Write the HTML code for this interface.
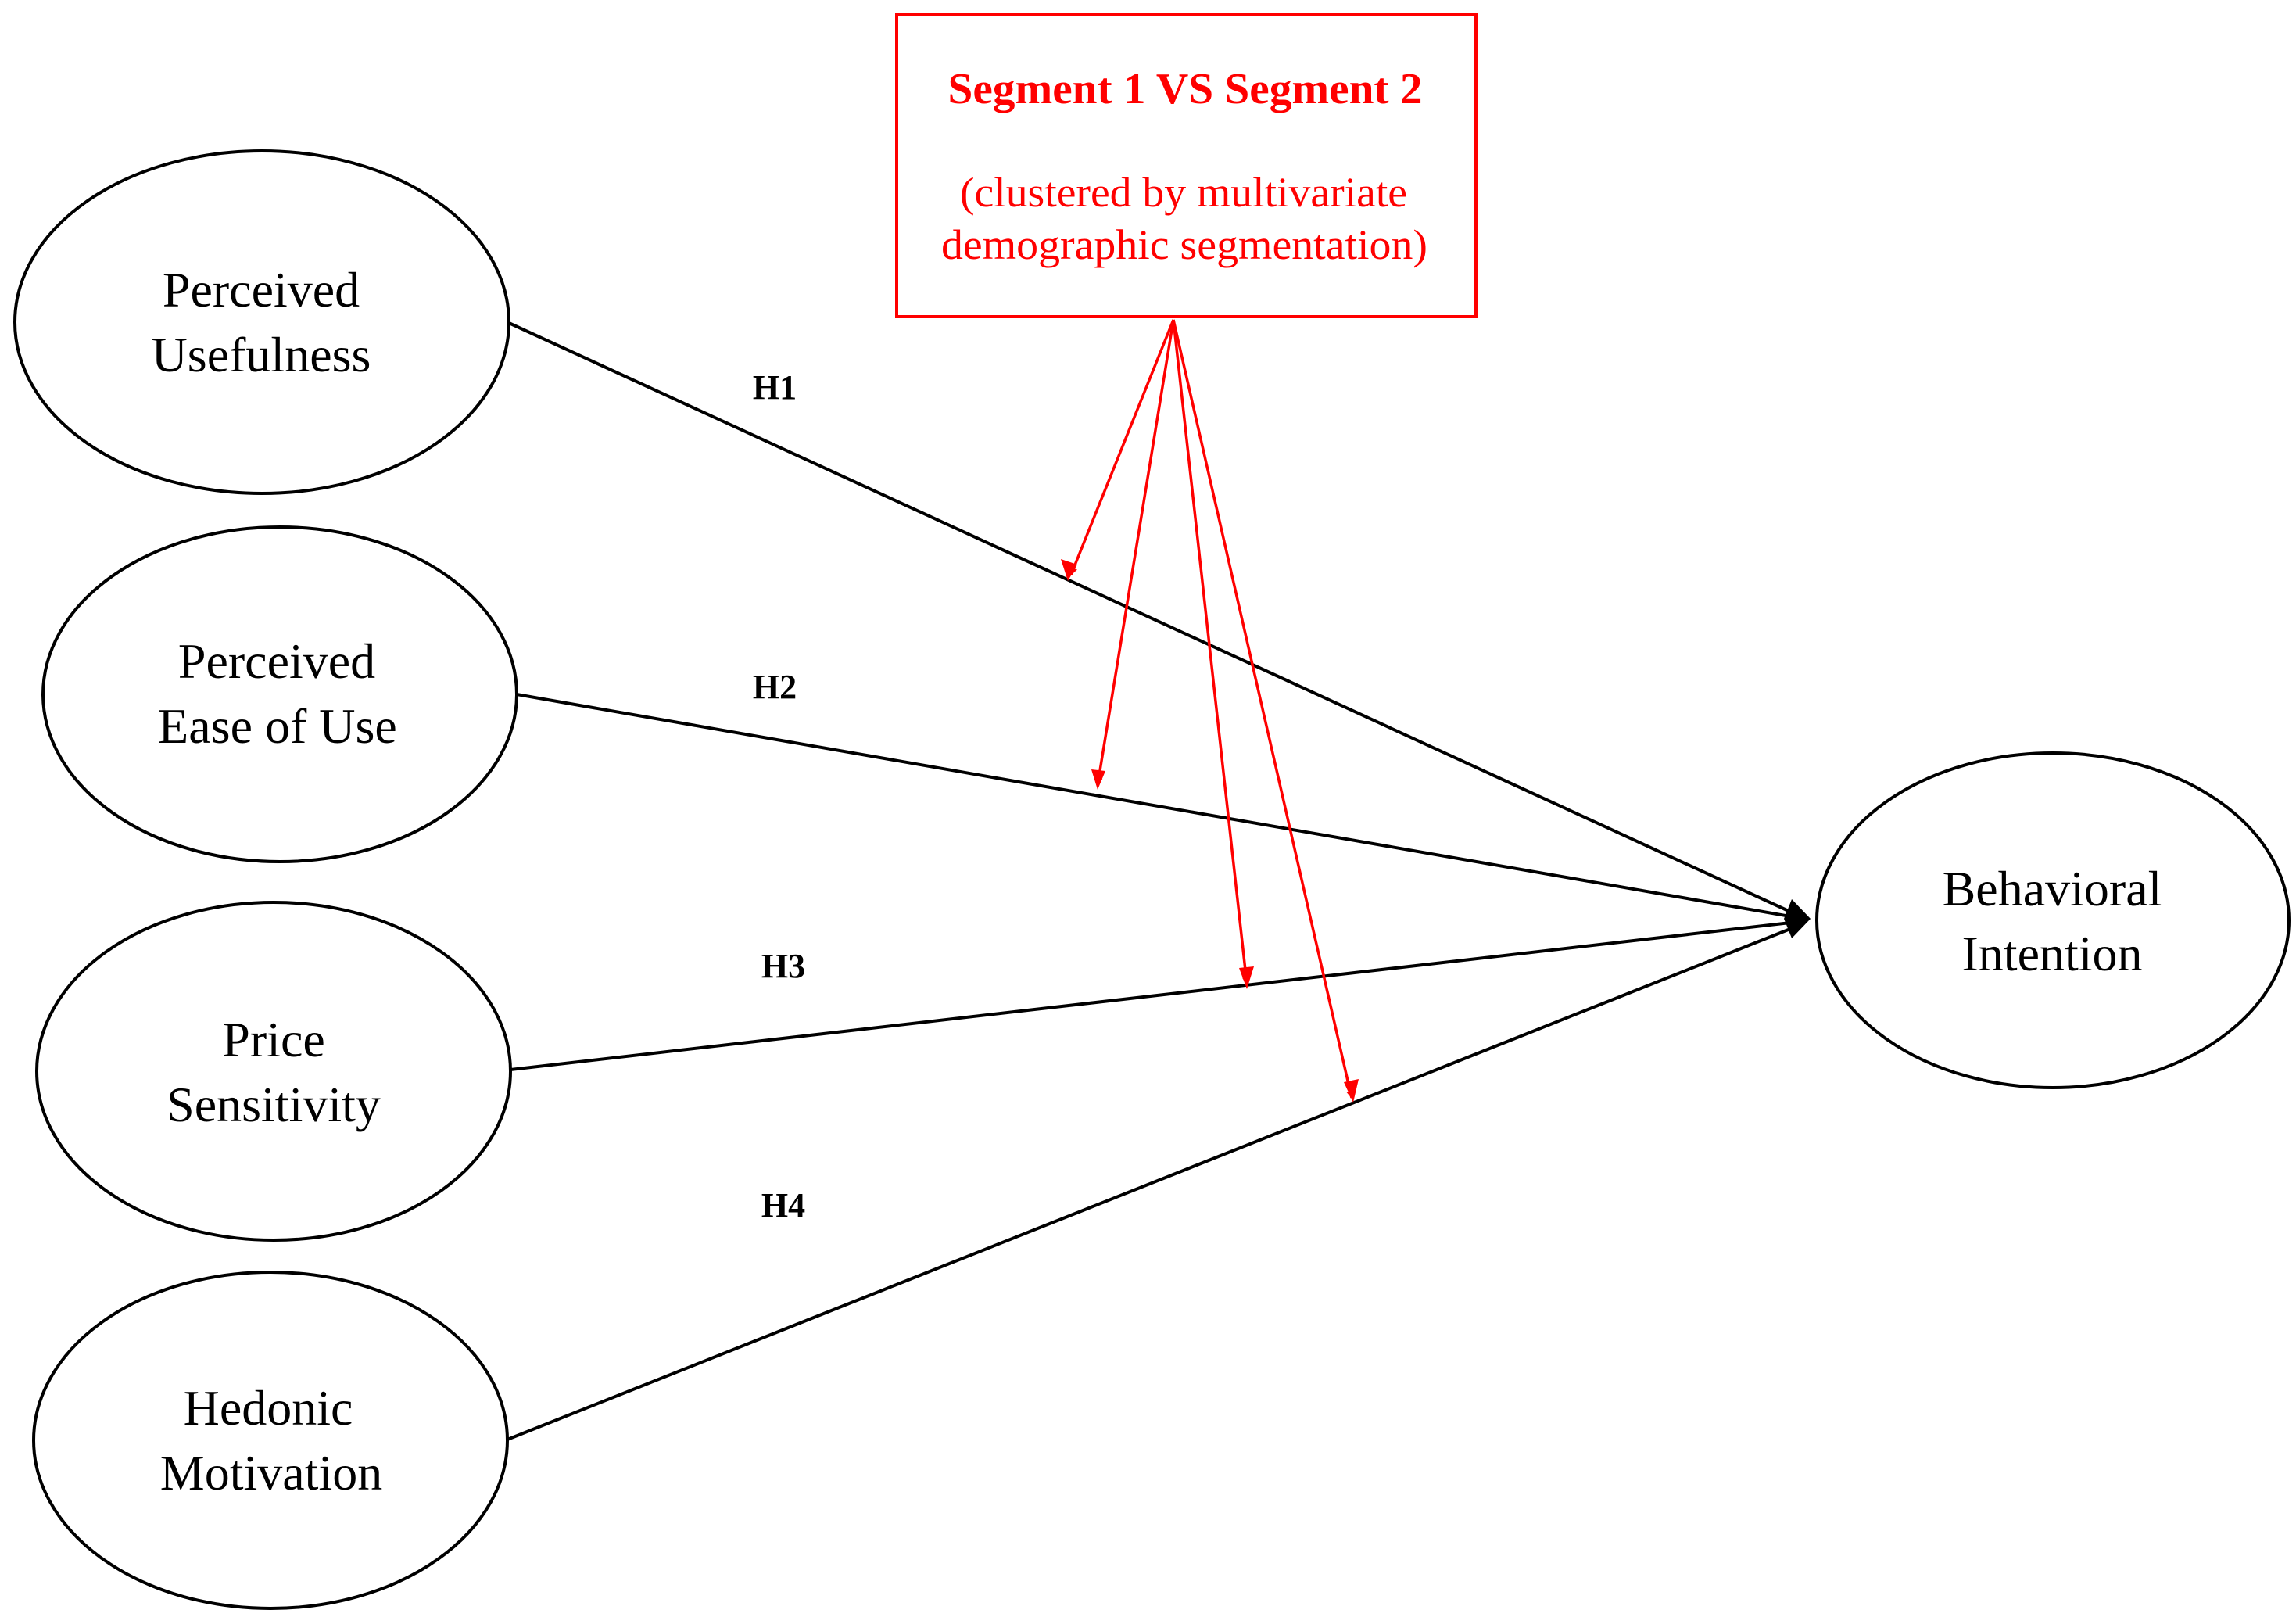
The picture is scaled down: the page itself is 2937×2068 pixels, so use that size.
<!DOCTYPE html>
<html><head><meta charset="utf-8"><style>html,body{margin:0;padding:0;background:#fff}svg{display:block}</style></head>
<body>
<svg width="2937" height="2068" viewBox="0 0 2937 2068" xmlns="http://www.w3.org/2000/svg">
<defs>
<marker id="bk" markerWidth="10" markerHeight="10" refX="9" refY="5" orient="auto" markerUnits="userSpaceOnUse" viewBox="0 0 10 10"><path d="M0,0 L10,5 L0,10 z" fill="#000"/></marker>
<marker id="rd" markerWidth="10" markerHeight="10" refX="9" refY="5" orient="auto" markerUnits="userSpaceOnUse" viewBox="0 0 10 10"><path d="M0,0 L10,5 L0,10 z" fill="#f00"/></marker>
</defs>
<g fill="none" stroke="#000" stroke-width="4">
<ellipse cx="335" cy="412" rx="316" ry="219"/>
<ellipse cx="358" cy="888" rx="303" ry="214"/>
<ellipse cx="350" cy="1370" rx="303" ry="216"/>
<ellipse cx="346" cy="1842" rx="303" ry="215"/>
<ellipse cx="2626" cy="1177" rx="302" ry="214"/>
</g>
<g stroke="#000" stroke-width="4">
<line x1="651" y1="413" x2="2290" y2="1166"/>
<line x1="661" y1="888" x2="2290" y2="1172"/>
<line x1="653" y1="1368" x2="2290" y2="1180"/>
<line x1="649" y1="1841" x2="2290" y2="1188"/>
</g>
<path d="M2316,1175 L2292,1150 L2282,1175 L2292,1200 z" fill="#000"/>
<rect x="1147" y="18" width="741" height="387" fill="none" stroke="#f00" stroke-width="4"/>
<g stroke="#f00" stroke-width="3.5">
<line x1="1501" y1="409" x2="1370" y2="735" marker-end="url(#rd)"/>
<line x1="1501" y1="409" x2="1404" y2="1004" marker-end="url(#rd)"/>
<line x1="1501" y1="409" x2="1595" y2="1259" marker-end="url(#rd)"/>
<line x1="1501" y1="409" x2="1729" y2="1404" marker-end="url(#rd)"/>
</g>
<g fill="#f00" stroke="none">
<path d="M1366,743 L1357,715 L1378,722 z"/>
<path d="M1404,1010 L1396,984 L1414,986 z"/>
<path d="M1595,1265 L1585,1238 L1604,1236 z"/>
<path d="M1731,1410 L1719,1384 L1738,1380 z"/>
</g>
<g font-family="'Liberation Serif', serif" fill="#f00" text-anchor="middle">
<text x="1516" y="132" font-size="56" font-weight="bold" textLength="607" lengthAdjust="spacingAndGlyphs">Segment 1 VS Segment 2</text>
<text x="1514" y="264" font-size="54" textLength="572" lengthAdjust="spacingAndGlyphs">(clustered  by multivariate</text>
<text x="1515" y="331" font-size="54" textLength="622" lengthAdjust="spacingAndGlyphs">demographic  segmentation)</text>
</g>
<g font-family="'Liberation Serif', serif" fill="#000" text-anchor="middle" font-size="64">
<text x="334" y="392">Perceived</text>
<text x="334" y="475">Usefulness</text>
<text x="354" y="867">Perceived</text>
<text x="355" y="950">Ease of Use</text>
<text x="350" y="1351">Price</text>
<text x="350" y="1434">Sensitivity</text>
<text x="343" y="1822">Hedonic</text>
<text x="347" y="1905">Motivation</text>
<text x="2625" y="1158">Behavioral</text>
<text x="2625" y="1241">Intention</text>
</g>
<g font-family="'Liberation Serif', serif" fill="#000" text-anchor="middle" font-size="44" font-weight="bold">
<text x="991" y="510">H1</text>
<text x="991" y="893">H2</text>
<text x="1002" y="1250">H3</text>
<text x="1002" y="1556">H4</text>
</g>
</svg>
</body></html>
